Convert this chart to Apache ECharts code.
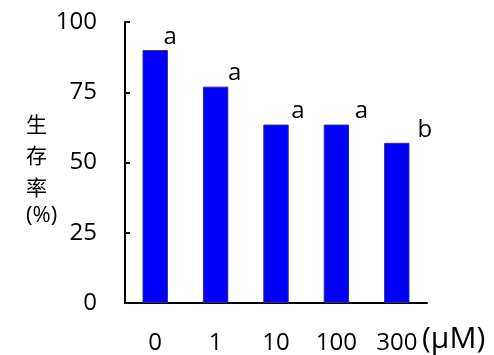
<!DOCTYPE html>
<html>
<head>
<meta charset="utf-8">
<script src="https://cdn.jsdelivr.net/npm/echarts@6/dist/echarts.min.js"></script>
<style>
html,body{margin:0;padding:0;background:#fff;}
#chart{width:494px;height:355px;}
</style>
</head>
<body>
<div id="chart"></div>
<script>
var categories = ['0', '1', '10', '100', '300'];
var survival = [90, 77, 63.5, 63.5, 57];
var letters = ['a', 'a', 'a', 'a', 'b'];
var yTicks = [0, 25, 50, 75, 100];

var FONT = '"Open Sans", sans-serif';
var labelDx = [15, 19, 22, 25, 28];

var chart = echarts.init(document.getElementById('chart'));
chart.setOption({
  animation: false,
  grid: { left: 125, right: 67, top: 22, bottom: 51 },
  xAxis: {
    type: 'category',
    data: categories,
    axisLine: { lineStyle: { color: '#000', width: 2 } },
    axisTick: { inside: true, length: 5, lineStyle: { color: '#000', width: 2 } },
    axisLabel: { color: '#000', fontSize: 24, fontFamily: FONT, margin: 28 }
  },
  yAxis: {
    type: 'value',
    min: yTicks[0],
    max: yTicks[yTicks.length - 1],
    interval: 25,
    axisLine: { show: true, lineStyle: { color: '#000', width: 2 } },
    axisTick: { show: true, inside: true, length: 5, lineStyle: { color: '#000', width: 2 } },
    splitLine: { show: false },
    axisLabel: { color: '#000', fontSize: 24, fontFamily: FONT, margin: 28 }
  },
  series: [{
    type: 'bar',
    barWidth: '42%',
    data: survival.map(function (v, i) {
      return {
        value: v,
        label: { offset: [labelDx[i], 0] }
      };
    }),
    itemStyle: { color: '#0000ff', borderColor: '#2b2b8a', borderWidth: 1 },
    label: {
      show: true,
      position: 'top',
      distance: 1,
      color: '#000',
      fontSize: 24,
      fontFamily: FONT,
      formatter: function (p) { return letters[p.dataIndex]; }
    }
  }],
  graphic: [
    {
      type: 'text',
      left: 422, top: 324,
      style: { text: '(μM)', fontSize: 30, fontFamily: FONT, fill: '#000' }
    },
    {
      type: 'text',
      left: 26, top: 108,
      style: {
        text: '生\n存\n率',
        fontSize: 21,
        lineHeight: 31.5,
        align: 'center',
        fontFamily: '"Noto Sans CJK TC", "Open Sans", sans-serif',
        fill: '#000'
      }
    },
    {
      type: 'text',
      left: 26, top: 205,
      style: {
        text: '(%)',
        fontSize: 22,
        align: 'center',
        fontFamily: FONT,
        fill: '#000'
      }
    }
  ]
});
</script>
</body>
</html>
